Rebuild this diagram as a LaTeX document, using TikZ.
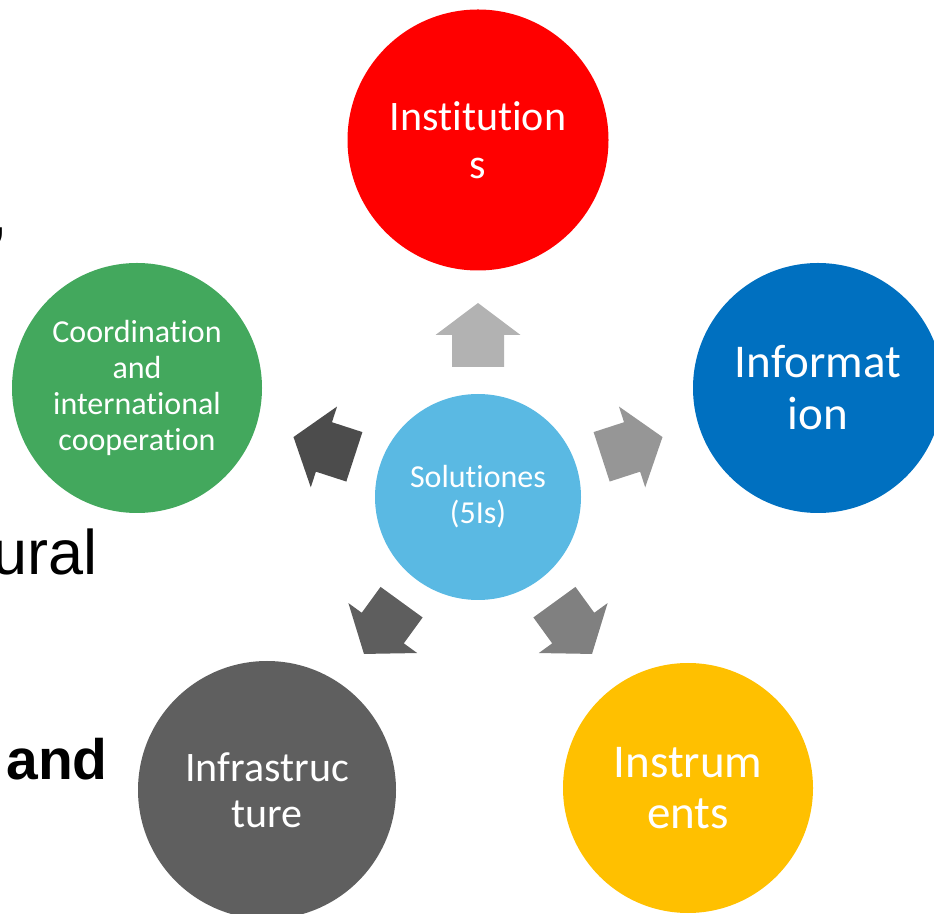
\documentclass[tikz,border=0pt]{standalone}
\usepackage{fontspec}
\newfontfamily\carlito[Ligatures=NoCommon]{Carlito}
\newfontfamily\slidefont{Liberation Sans}

\definecolor{instred}{HTML}{FF0000}
\definecolor{infoblue}{HTML}{0070C0}
\definecolor{coopgreen}{HTML}{43A85D}
\definecolor{infragray}{HTML}{5F5F5F}
\definecolor{instryellow}{HTML}{FFC000}
\definecolor{solblue}{HTML}{5AB9E3}

\begin{document}
\begin{tikzpicture}[x=1pt, y=1pt,
  bubble/.style={circle, inner sep=0pt, text=white, align=center},
  slidetext/.style={inner sep=0pt, anchor=base east}]

\useasboundingbox (0,0) rectangle (934,913);

% Pieces of the slide text behind the diagram
\node[slidetext, font=\slidefont\fontsize{63}{76}\selectfont] (comma) at (8,678) {,};
\node[slidetext, font=\slidefont\fontsize{63}{76}\selectfont] (ural) at (98,338) {ural};
\node[slidetext, font=\slidefont\bfseries\fontsize{57}{68}\selectfont] (andword) at (108,133) {and};

% Block arrows pointing out of the centre
\foreach \a/\g in {90/0.70, 18/0.59, -54/0.50, -126/0.37, 162/0.30} {
  \definecolor{arrowgray}{gray}{\g}
  \begin{scope}[shift={(478,416)}, rotate=\a-90]
    \fill[arrowgray] (-26,130) -- (26,130) -- (26,162) -- (42.5,162)
      -- (0,194) -- (-42.5,162) -- (-26,162) -- cycle;
  \end{scope}
}

% Centre circle
\node[bubble, fill=solblue, minimum size=206,
  font=\carlito\fontsize{32}{36}\selectfont] (sol) at (478,416) {Solutiones\\(5Is)};

% The five Is
\node[bubble, fill=instred, minimum size=261,
  font=\carlito\fontsize{42}{48}\selectfont] (inst) at (478,773) {Institution\\s};
\node[bubble, fill=infoblue, minimum size=250,
  font=\carlito\fontsize{47}{52}\selectfont] (info) at (818,525) {Informat\\ion};
\node[bubble, fill=coopgreen, minimum size=250,
  font=\carlito\fontsize{32}{36}\selectfont] (coop) at (137,525)
  {Coordination\\and\\international\\cooperation};
\node[bubble, fill=infragray, minimum size=258,
  font=\carlito\fontsize{42}{46}\selectfont] (infra) at (267,123) {Infrastruc\\ture};
\node[bubble, fill=instryellow, minimum size=250,
  font=\carlito\fontsize{47}{51}\selectfont] (instr) at (688,125) {Instrum\\ents};

\end{tikzpicture}
\end{document}
